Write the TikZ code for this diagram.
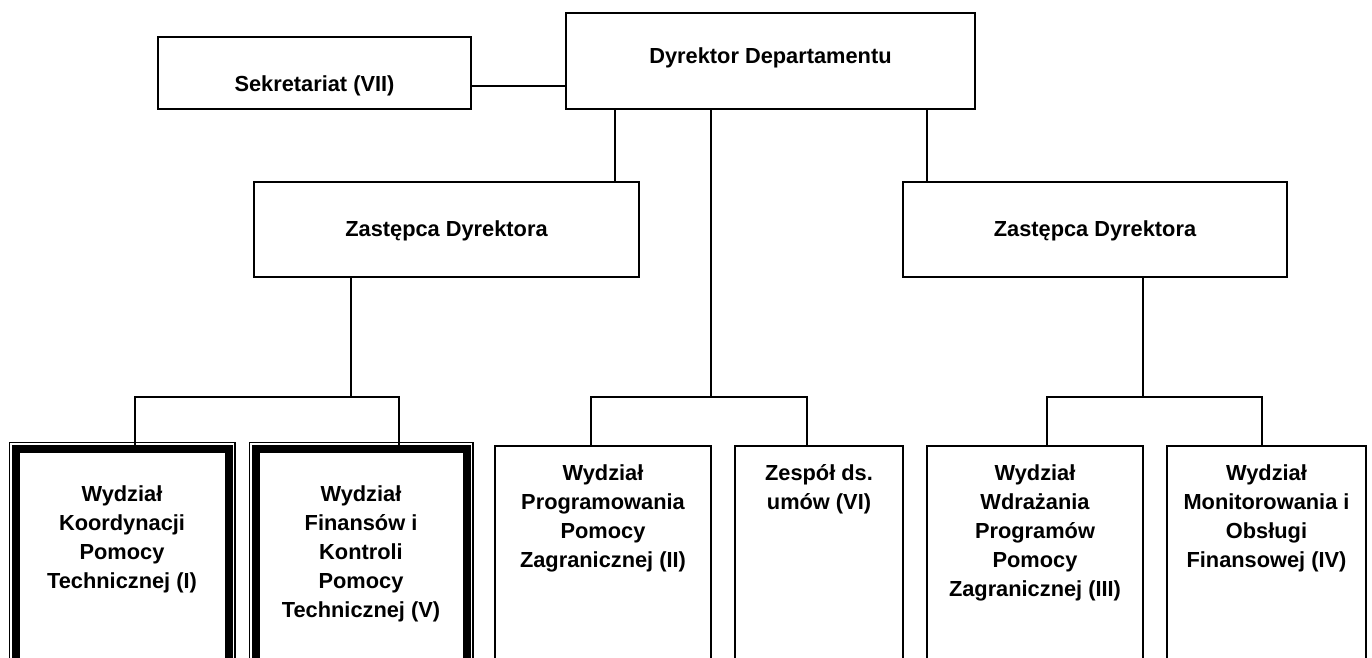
\documentclass[tikz,border=0pt]{standalone}
\usepackage{fontspec}
\setmainfont{Liberation Sans}
\usetikzlibrary{calc}
\tikzset{
   box/.style={draw,rectangle,line width=1pt,inner sep=0pt,outer sep=0pt},
   thickbox/.style={draw,rectangle,line width=4pt,inner sep=0pt,outer sep=0pt},
   outline/.style={line width=0.6pt},
   link/.style={line width=1pt},
   txt/.style={align=center,inner sep=0pt,font=\bfseries\fontsize{10.9}{14.5}\selectfont},
}
\begin{document}
\begin{tikzpicture}[x=0.5pt,y=-0.5pt]
      \useasboundingbox (0,0) rectangle (1372,658);
      \clip (0,0) rectangle (1372,658);

      % top level
      \node[box, minimum width=204.5pt, minimum height=48pt] (dyr) at (770.5,61) {};
      \node[box, minimum width=156.5pt, minimum height=36pt] (sek) at (314.5,73) {};

      % deputies
      \node[box, minimum width=192.5pt, minimum height=47.5pt] (zl) at (446.5,229.5) {};
      \node[box, minimum width=192pt, minimum height=47.5pt] (zr) at (1095,229.5) {};

      % units
      \node[thickbox, minimum width=106.25pt, minimum height=125.5pt] (kor) at (122.25,574.5) {};
      \node[thickbox, minimum width=105.25pt, minimum height=125.5pt] (fin) at (361.25,574.5) {};
      \draw[outline] ($(kor.north west)+(-6.5,-6.5)$) rectangle ($(kor.south east)+(6.5,6.5)$);
      \draw[outline] ($(fin.north west)+(-6.5,-6.5)$) rectangle ($(fin.south east)+(6.5,6.5)$);
      \node[box, minimum width=108pt, minimum height=127pt] (prog) at (603,573) {};
      \node[box, minimum width=84pt, minimum height=127pt] (zesp) at (819,573) {};
      \node[box, minimum width=108pt, minimum height=127pt] (wdr) at (1035,573) {};
      \node[box, minimum width=99.5pt, minimum height=127pt] (mon) at (1266.5,573) {};

      % texts
      \node[txt, anchor=base] (dyrt) at (770.5,64) {Dyrektor Departamentu};
      \node[txt, anchor=base] (sekt) at (314.5,92) {Sekretariat (VII)};
      \node[txt, anchor=base] (zlt) at (446.5,236) {Zastępca Dyrektora};
      \node[txt, anchor=base] (zrt) at (1095,236) {Zastępca Dyrektora};
      \node[txt, anchor=north] (kort) at (122,485) {Wydział\\Koordynacji\\Pomocy\\Technicznej (I)};
      \node[txt, anchor=north] (fint) at (361,485) {Wydział\\Finansów i\\Kontroli\\Pomocy\\Technicznej (V)};
      \node[txt, anchor=north] (progt) at (603,464) {Wydział\\Programowania\\Pomocy\\Zagranicznej (II)};
      \node[txt, anchor=north] (zespt) at (819,464) {Zespół ds.\\umów (VI)};
      \node[txt, anchor=north] (wdrt) at (1035,464) {Wydział\\Wdrażania\\Programów\\Pomocy\\Zagranicznej (III)};
      \node[txt, anchor=north] (mont) at (1266.5,464) {Wydział\\Monitorowania i\\Obsługi\\Finansowej (IV)};

      % junctions
      \coordinate (dl) at (615,0);
      \coordinate (dm) at (711,397);
      \coordinate (dr) at (927,0);
      \coordinate (lj) at (351,397);
      \coordinate (lja) at (135,397);
      \coordinate (ljb) at (399,397);
      \coordinate (mja) at (591,397);
      \coordinate (mjb) at (807,397);
      \coordinate (rj) at (1143,397);
      \coordinate (rja) at (1047,397);
      \coordinate (rjb) at (1262,397);

      \draw[link] ([yshift=-6.5pt]sek.east) coordinate (s) -- (s -| dyr.west);
      \draw[link] (dyr.south -| dl) -- (zl.north -| dl);
      \draw[link] (dyr.south -| dr) -- (zr.north -| dr);

      \draw[link] (zl.south -| lj) -- (lj);
      \draw[link] (kor.north -| lja) -- (lja) -- (ljb) -- (fin.north -| ljb);

      \draw[link] (dyr.south -| dm) -- (dm);
      \draw[link] (prog.north -| mja) -- (mja) -- (mjb) -- (zesp.north -| mjb);

      \draw[link] (zr.south -| rj) -- (rj);
      \draw[link] (wdr.north -| rja) -- (rja) -- (rjb) -- (mon.north -| rjb);
\end{tikzpicture}
\end{document}
